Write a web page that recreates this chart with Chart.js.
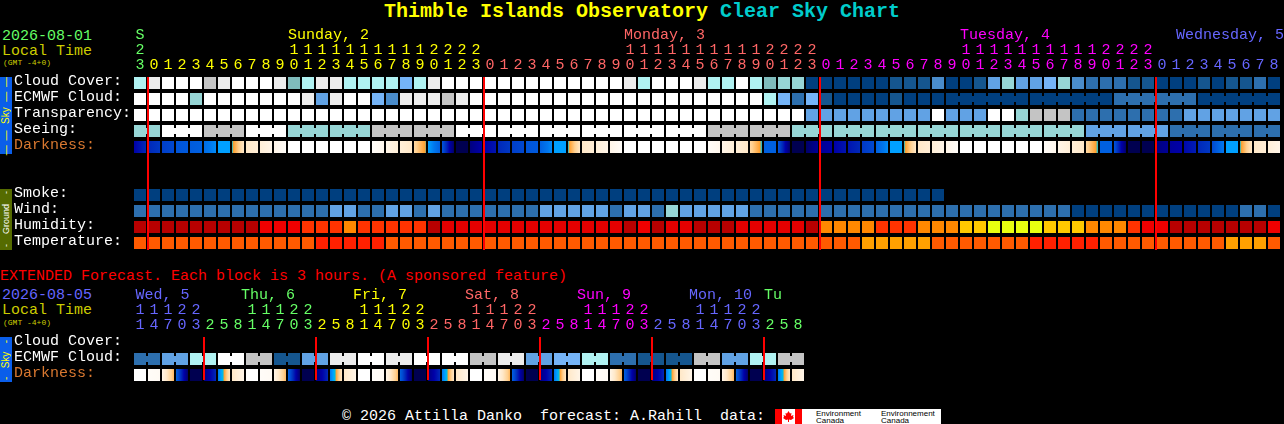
<!DOCTYPE html>
<html>
<head>
<meta charset="utf-8">
<title>Thimble Islands Observatory Clear Sky Chart</title>
<script src="https://cdn.jsdelivr.net/npm/chart.js@4"></script>
<style>
    html, body { margin: 0; background: #000; overflow: hidden; width: 1284px; height: 424px; }
    body { position: relative; font-family: "Liberation Mono", monospace; font-size: 15px; }
    canvas { position: absolute; left: 0; }
    .txt { position: absolute; white-space: pre; line-height: 16px; }
    .bar { position: absolute; left: 0; width: 12px; display: flex; align-items: center; justify-content: center; }
    .bar span { writing-mode: vertical-rl; transform: rotate(180deg); font: 10px/12px "Liberation Sans", sans-serif; white-space: pre; }
    .bar i { font-style: normal; font-size: 10px; letter-spacing: 1px; }
</style>
</head>
<body>
<div class="txt" style="left:384px;top:2px;font-size:20px;font-weight:bold;line-height:20px;color:#ffff00">Thimble Islands Observatory <span style="color:#00cccc">Clear Sky Chart</span></div>
<div class="txt" style="left:2px;top:29px;color:#66ff66">2026-08-01</div>
<div class="txt" style="left:2px;top:44px;color:#cccc00">Local Time</div>
<div class="txt" style="left:3px;top:55px;font-size:8px;color:#cccc00">(GMT -4+0)</div>
<div class="bar" style="top:77px;height:77px;background:#0a5eea"><span style="color:#ffff00"><i>— —</i>  Sky  <i>— —</i></span></div>
<div class="bar" style="top:189px;height:61px;background:#556b00"><span style="color:#fff;font-size:9px">-    Ground    -</span></div>
<div class="txt" style="left:0;top:269px;color:#ff0000">EXTENDED Forecast. Each block is 3 hours. (A sponsored feature)</div>
<div class="txt" style="left:2px;top:288px;color:#6666ff">2026-08-05</div>
<div class="txt" style="left:2px;top:303px;color:#cccc00">Local Time</div>
<div class="txt" style="left:3px;top:315px;font-size:8px;color:#cccc00">(GMT -4+0)</div>
<div class="bar" style="top:337px;height:45px;background:#0a5eea"><span style="color:#ffff00">-   Sky   -</span></div>
<div class="txt" style="left:342px;top:409px;color:#fff">© 2026 Attilla Danko  forecast: A.Rahill  data:</div>
<div style="position:absolute;left:775px;top:409px;width:166px;height:15px;background:#fff;color:#000;font:8px/7px 'Liberation Sans',sans-serif">
    <div style="position:absolute;left:0;top:0;width:7px;height:15px;background:#ff0000"></div>
    <div style="position:absolute;left:20px;top:0;width:7px;height:15px;background:#ff0000"></div>
    <svg style="position:absolute;left:7px;top:1px" width="13" height="13" viewBox="0 0 13 13"><polygon fill="#ff0000" points="6.5,1 8,3.5 9.5,3 9,6 11.5,5 11,7 12,8 9,10 7,9.5 7,12 6,12 6,9.5 4,10 1,8 2,7 1.5,5 4,6 3.5,3 5,3.5"/></svg>
    <div style="position:absolute;left:41px;top:1px">Environment<br>Canada</div>
    <div style="position:absolute;left:106px;top:1px">Environnement<br>Canada</div>
</div>
<canvas id="forecastChart" width="1284" height="265" style="top:0"></canvas>
<canvas id="extendedChart" width="1284" height="140" style="top:265px"></canvas>

<script>
// palette lookups, the arrays below hold indexes into these
const skyColors = ['#ffffff', '#ececec', '#c4c4c4', '#b0f2f2', '#97d6d6', '#7fbcbc', '#75b4f7', '#61a2e4', '#4a8ccb', '#2d6fae', '#15568f', '#003f7f'];
const humidityColors = ['#b80000', '#e40000', '#f00000', '#ff3300', '#ff8800', '#ffc800', '#e8ff10'];
const temperatureColors = ['#ff5a00', '#ffa000', '#ff2000'];
const darknessStops = [[0, '#ffffff'], [1, '#fff5e8'], [2, '#ffe8c8'], [3, '#ffd090'], [4, '#ffa030'], [4.3, '#00c0e0'], [5, '#00a0ff'], [6, '#0078ee'], [7, '#0060e0'], [8, '#0048d0'], [9, '#0028b8'], [10, '#0000a8'], [11, '#000080'], [12, '#000050']];

const rowLabels = ['Cloud Cover:', 'ECMWF Cloud:', 'Transparency:', 'Seeing:', 'Darkness:', '', '', 'Smoke:', 'Wind:', 'Humidity:', 'Temperature:'];
const hours = [23, 0, 1, 2, 3, 4, 5, 6, 7, 8, 9, 10, 11, 12, 13, 14, 15, 16, 17, 18, 19, 20, 21, 22, 23, 0, 1, 2, 3, 4, 5, 6, 7, 8, 9, 10, 11, 12, 13, 14, 15, 16, 17, 18, 19, 20, 21, 22, 23, 0, 1, 2, 3, 4, 5, 6, 7, 8, 9, 10, 11, 12, 13, 14, 15, 16, 17, 18, 19, 20, 21, 22, 23, 0, 1, 2, 3, 4, 5, 6, 7, 8];
const hourColors = ['#66ff66', '#ffff00', '#ff6666', '#ff00ff', '#6666ff'];
const hourDays = [0, 1, 1, 1, 1, 1, 1, 1, 1, 1, 1, 1, 1, 1, 1, 1, 1, 1, 1, 1, 1, 1, 1, 1, 1, 2, 2, 2, 2, 2, 2, 2, 2, 2, 2, 2, 2, 2, 2, 2, 2, 2, 2, 2, 2, 2, 2, 2, 2, 3, 3, 3, 3, 3, 3, 3, 3, 3, 3, 3, 3, 3, 3, 3, 3, 3, 3, 3, 3, 3, 3, 3, 3, 4, 4, 4, 4, 4, 4, 4, 4, 4];
const dayNames = ['S', 'Sunday, 2', 'Monday, 3', 'Tuesday, 4', 'Wednesday, 5'];
const dayCols = [0.1, 11, 35, 59, 74.43];
const midnights = [0, 24, 48, 72];

const cloudCover = [3, 1, 0, 0, 0, 2, 1, 0, 0, 0, 1, 5, 3, 1, 1, 3, 3, 3, 3, 6, 3, 1, 0, 0, 0, 0, 0, 0, 0, 0, 0, 0, 0, 0, 0, 1, 3, 0, 0, 0, 1, 3, 3, 0, 3, 5, 4, 4, 11, 11, 11, 11, 11, 11, 10, 10, 10, 8, 11, 11, 10, 7, 4, 7, 7, 6, 4, 8, 9, 9, 9, 10, 10, 11, 11, 11, 10, 11, 10, 10, 9, 11];
const ecmwfCloud = [0, 0, 0, 0, 4, 0, 0, 0, 0, 0, 0, 0, 1, 7, 1, 0, 0, 6, 8, 1, 1, 1, 2, 1, 0, 0, 0, 0, 0, 0, 0, 0, 0, 0, 0, 0, 0, 0, 0, 0, 0, 0, 0, 0, 0, 3, 6, 9, 6, 10, 11, 11, 11, 11, 10, 11, 11, 11, 11, 11, 11, 11, 11, 11, 11, 11, 11, 11, 11, 11, 9, 9, 9, 9, 9, 9, 11, 11, 11, 11, 11, 11];
const ecmwfBlockStarts = [58, 64, 70, 76];
const transparency = [0, 0, 0, 0, 0, 0, 0, 0, 0, 0, 0, 0, 0, 0, 0, 0, 0, 0, 0, 0, 0, 0, 0, 0, 0, 0, 0, 0, 0, 0, 0, 0, 0, 0, 0, 0, 0, 0, 0, 0, 0, 0, 0, 0, 0, 0, 0, 0, 7, 7, 7, 7, 7, 7, 7, 7, 7, 0, 7, 7, 7, 0, 0, 4, 2, 2, 2, 9, 9, 9, 9, 9, 9, 9, 9, 7, 7, 7, 7, 7, 7, 7];
const seeing = [4, 4, 0, 0, 0, 2, 2, 2, 0, 0, 0, 4, 4, 4, 4, 4, 4, 2, 2, 2, 2, 2, 2, 0, 0, 0, 0, 0, 0, 0, 0, 0, 0, 0, 0, 0, 0, 0, 0, 0, 0, 2, 2, 2, 2, 2, 2, 4, 4, 4, 4, 4, 4, 4, 4, 4, 4, 4, 4, 4, 4, 4, 4, 4, 4, 4, 4, 4, 7, 7, 7, 7, 7, 7, 9, 9, 9, 9, 9, 9, 9, 9];
const seeingBlockStarts = [0, 2, 5, 8, 11, 14, 17, 20, 23, 26, 29, 32, 35, 38, 41, 44, 47, 50, 53, 56, 59, 62, 65, 68, 71, 74, 77, 80];
const darknessFrom = [10, 9, 8.3, 7.5, 7.2, 6.5, 5, 4.3, 2, 1.5, 1, 0, 0, 0, 0, 0, 0, 0.3, 1, 1.5, 2.7, 5, 7.5, 12, 11, 10, 9, 8.3, 7.5, 7, 5, 4.3, 2, 1.5, 1, 0, 0, 0, 0, 0, 0, 0.3, 1, 1.5, 2.7, 7, 7.5, 12, 11.5, 10.5, 10, 9.5, 8.5, 7, 5, 4.3, 2, 1.5, 1, 0, 0, 0, 0, 0, 0, 0.3, 1, 1.5, 2.7, 7, 7.5, 12, 12, 11, 10.3, 9.8, 9, 8, 5, 4.3, 2, 1.5];
const darknessTo = [9, 8.5, 8, 7.3, 7, 5.5, 5, 2, 1.6, 1, 0.3, 0, 0, 0, 0, 0, 0, 0.8, 1.5, 2, 4.15, 7, 11.5, 12, 10, 9.5, 8.5, 8, 7.3, 5.5, 5, 2, 1.6, 1, 0.3, 0, 0, 0, 0, 0, 0, 0.8, 1.5, 2, 4.3, 7, 11.5, 12, 10.5, 10, 9.5, 9, 8, 5.5, 5, 2, 1.6, 1, 0.3, 0, 0, 0, 0, 0, 0, 0.8, 1.5, 2, 4.3, 7, 11.5, 12, 12, 10.5, 10, 9.3, 8.5, 6, 5, 2, 1.6, 1];
const smoke = [11, 11, 11, 11, 11, 11, 11, 11, 11, 11, 11, 11, 11, 11, 11, 11, 11, 11, 11, 11, 11, 11, 11, 11, 11, 11, 11, 11, 11, 11, 11, 11, 11, 11, 11, 11, 11, 11, 11, 11, 11, 11, 11, 11, 11, 11, 11, 11, 11, 11, 11, 11, 11, 11, 11, 11, 11, 11];
const wind = [9, 9, 9, 9, 9, 9, 9, 9, 9, 9, 9, 9, 9, 9, 7, 7, 9, 9, 7, 7, 9, 7, 9, 9, 9, 9, 9, 9, 9, 7, 7, 7, 7, 7, 9, 7, 7, 9, 4, 7, 7, 7, 7, 7, 9, 9, 9, 9, 9, 9, 9, 9, 9, 9, 9, 9, 9, 9, 9, 9, 9, 9, 9, 9, 9, 9, 9, 11, 11, 11, 11, 11, 11, 11, 11, 11, 11, 11, 11, 9, 9, 11];
const humidity = [0, 0, 0, 0, 0, 0, 0, 0, 0, 2, 2, 2, 3, 3, 3, 4, 3, 3, 3, 3, 3, 0, 1, 1, 1, 1, 1, 1, 1, 1, 1, 1, 1, 1, 1, 0, 2, 0, 1, 1, 0, 0, 0, 1, 1, 1, 1, 1, 0, 4, 4, 4, 4, 3, 3, 3, 4, 4, 4, 5, 5, 6, 6, 6, 6, 5, 5, 5, 4, 4, 4, 3, 2, 2, 0, 0, 0, 0, 0, 0, 0, 2];
const temperature = [0, 0, 0, 0, 0, 0, 0, 0, 0, 0, 0, 0, 0, 2, 2, 2, 2, 2, 0, 0, 0, 0, 0, 0, 0, 0, 0, 0, 0, 0, 0, 0, 0, 0, 0, 0, 0, 0, 0, 0, 0, 0, 0, 0, 0, 0, 0, 0, 0, 0, 0, 0, 1, 1, 1, 1, 1, 0, 0, 0, 0, 0, 0, 0, 2, 2, 2, 2, 2, 0, 0, 0, 0, 0, 0, 0, 0, 0, 1, 1, 1, 0];

const extRowLabels = ['Cloud Cover:', 'ECMWF Cloud:', 'Darkness:'];
const extHours = [11, 14, 17, 20, 23, 2, 5, 8, 11, 14, 17, 20, 23, 2, 5, 8, 11, 14, 17, 20, 23, 2, 5, 8, 11, 14, 17, 20, 23, 2, 5, 8, 11, 14, 17, 20, 23, 2, 5, 8, 11, 14, 17, 20, 23, 2, 5, 8];
const extHourColors = ['#6666ff', '#66ff66', '#ffff00', '#ff6666', '#ff00ff', '#6666ff', '#66ff66'];
const extHourDays = [0, 0, 0, 0, 0, 1, 1, 1, 1, 1, 1, 1, 1, 2, 2, 2, 2, 2, 2, 2, 2, 3, 3, 3, 3, 3, 3, 3, 3, 4, 4, 4, 4, 4, 4, 4, 4, 5, 5, 5, 5, 5, 5, 5, 5, 6, 6, 6];
const extDayNames = ['Wed, 5', 'Thu, 6', 'Fri, 7', 'Sat, 8', 'Sun, 9', 'Mon, 10', 'Tu'];
const extDayCols = [0.1, 7.64, 15.64, 23.64, 31.64, 39.64, 45];
const extMidnights = [4, 12, 20, 28, 36, 44];
const extEcmwf = [9, 9, 7, 7, 3, 3, 0, 0, 2, 2, 10, 10, 7, 7, 1, 1, 0, 0, 1, 1, 0, 0, 0, 0, 2, 2, 1, 1, 7, 7, 6, 6, 3, 3, 9, 9, 10, 10, 10, 10, 2, 2, 7, 7, 3, 3, 2, 2];
const extEcmwfBlockStarts = [0, 2, 4, 6, 8, 10, 12, 14, 16, 18, 20, 22, 24, 26, 28, 30, 32, 34, 36, 38, 40, 42, 44, 46];
const extDarknessFrom = [0, 0.3, 1, 7, 12, 11, 6, 2, 0, 0.3, 1, 7, 12, 11, 6, 2, 0, 0.3, 1, 7, 12, 11, 6, 2, 0, 0.3, 1, 7, 12, 11, 6, 2, 0, 0.3, 1, 7, 12, 11, 6, 2, 0, 0.3, 1, 7, 12, 11, 6, 2];
const extDarknessTo = [0, 0.5, 3.5, 11.5, 12, 9, 2, 1, 0, 0.5, 3.5, 11.5, 12, 9, 2, 1, 0, 0.5, 3.5, 11.5, 12, 9, 2, 1, 0, 0.5, 3.5, 11.5, 12, 9, 2, 1, 0, 0.5, 3.5, 11.5, 12, 9, 2, 1, 0, 0.5, 3.5, 11.5, 12, 9, 2, 1];

const monoFont = { family: "'Liberation Mono', monospace", size: 15, lineHeight: 1 };

function cellRow(row, values, palette) {
    return {
        data: values.map((v, i) => ({ x: i, y: [row - 0.375, row + 0.375] })),
        backgroundColor: values.map(v => palette[v]),
        barThickness: 12
    };
}

// thin joins between the hours that belong to one forecast block
function bridgeRow(row, values, blockStarts) {
    const cols = [];
    values.forEach((v, i) => {
        if (i >= blockStarts[0] && i + 1 < values.length && !blockStarts.includes(i + 1)) cols.push(i);
    });
    return {
        data: cols.map(i => ({ x: i + 0.5, y: [row - 0.1875, row + 0.1875] })),
        backgroundColor: cols.map(i => skyColors[values[i]]),
        barThickness: 2
    };
}

function darknessColor(v) {
    for (let i = 1; i < darknessStops.length; i++) {
        const [a, ca] = darknessStops[i - 1];
        const [b, cb] = darknessStops[i];
        if (v <= b) {
            const t = (v - a) / (b - a);
            const mix = k => Math.round(parseInt(ca.substr(k, 2), 16) * (1 - t) + parseInt(cb.substr(k, 2), 16) * t);
            return `rgb(${mix(1)},${mix(3)},${mix(5)})`;
        }
    }
    return darknessStops[darknessStops.length - 1][1];
}

function darknessRow(row, from, to) {
    return {
        data: from.map((v, i) => ({ x: i, y: [row - 0.375, row + 0.375] })),
        barThickness: 12,
        backgroundColor: ctx => {
            const i = ctx.dataIndex;
            if (i === undefined) return darknessColor(0);
            const center = ctx.chart.scales.x.getPixelForValue(i);
            // scales have no pixels yet on the first pass
            if (from[i] === to[i] || !isFinite(center)) return darknessColor(from[i]);
            const grad = ctx.chart.ctx.createLinearGradient(center - 6, 0, center + 6, 0);
            grad.addColorStop(0, darknessColor(from[i]));
            darknessStops.forEach(([v]) => {
                const pos = (v - from[i]) / (to[i] - from[i]);
                if (pos > 0 && pos < 1) grad.addColorStop(pos, darknessColor(v));
            });
            grad.addColorStop(1, darknessColor(to[i]));
            return grad;
        }
    };
}

function midnightLines(cols, top, bottom) {
    return {
        data: cols.map(c => ({ x: c + 8 / 14, y: [top, bottom] })),
        backgroundColor: '#ff0000',
        barThickness: 2,
        order: 0
    };
}

function hourLines(h) {
    const text = String(h);
    return text.length > 1 ? [text[0], text[1]] : ['', text];
}

// the axes keep their given size, no room reserved for label overhang
function fixAxis(scale, size) {
    if (scale.isHorizontal()) scale.height = size;
    else scale.width = size;
    scale.paddingLeft = scale.paddingRight = scale.paddingTop = scale.paddingBottom = 0;
}

function buildChart(canvasId, opts) {
    const rows = opts.labels.map((l, i) => i).filter(i => opts.labels[i]);
    return new Chart(document.getElementById(canvasId), {
        type: 'bar',
        data: { datasets: opts.datasets },
        options: {
            responsive: false,
            animation: false,
            devicePixelRatio: 1,
            layout: { padding: opts.padding },
            plugins: { legend: { display: false }, tooltip: { enabled: false } },
            datasets: { bar: { grouped: false, inflateAmount: 0, borderWidth: 0 } },
            scales: {
                x: {
                    type: 'linear',
                    position: 'top',
                    offset: false,
                    min: -0.5,
                    max: opts.columns - 0.5 + opts.spare,
                    grid: { display: false, drawTicks: false },
                    border: { display: false },
                    afterBuildTicks: s => { s.ticks = opts.hours.map((h, i) => ({ value: i })); },
                    afterFit: s => fixAxis(s, 32),
                    ticks: {
                        autoSkip: false,
                        maxRotation: 0,
                        minRotation: 0,
                        padding: 2,
                        font: monoFont,
                        color: ctx => opts.hourColors[opts.hourDays[ctx.index]],
                        callback: (v, i) => hourLines(opts.hours[i])
                    }
                },
                days: {
                    axis: 'x',
                    type: 'linear',
                    position: 'top',
                    offset: false,
                    min: -0.5,
                    max: opts.columns - 0.5 + opts.spare,
                    grid: { display: false, drawTicks: false },
                    border: { display: false },
                    afterBuildTicks: s => { s.ticks = opts.dayCols.map(c => ({ value: c })); },
                    afterFit: s => fixAxis(s, 15),
                    ticks: {
                        autoSkip: false,
                        maxRotation: 0,
                        minRotation: 0,
                        padding: 0,
                        align: 'start',
                        labelOffset: -6,
                        font: monoFont,
                        color: ctx => opts.dayColors[ctx.index],
                        callback: (v, i) => opts.dayNames[i]
                    }
                },
                y: {
                    type: 'linear',
                    reverse: true,
                    min: -0.5,
                    max: opts.labels.length - 0.5,
                    grid: { display: false, drawTicks: false },
                    border: { display: false },
                    afterBuildTicks: s => { s.ticks = rows.map(r => ({ value: r })); },
                    afterFit: s => fixAxis(s, 119),
                    ticks: {
                        autoSkip: false,
                        crossAlign: 'far',
                        padding: 0,
                        labelOffset: -2,
                        font: monoFont,
                        color: ctx => ctx.tick.value === opts.darknessRow ? '#d97830' : '#ffffff',
                        callback: v => opts.labels[v]
                    }
                }
            }
        }
    });
}

buildChart('forecastChart', {
    labels: rowLabels,
    columns: 82,
    spare: 0,
    padding: { left: 14, right: 3, top: 28, bottom: 14 },
    hours: hours,
    hourColors: hourColors,
    hourDays: hourDays,
    dayNames: dayNames,
    dayCols: dayCols,
    dayColors: hourColors,
    darknessRow: 4,
    datasets: [
        midnightLines(midnights, -0.375, 10.4375),
        cellRow(0, cloudCover, skyColors),
        cellRow(1, ecmwfCloud, skyColors),
        bridgeRow(1, ecmwfCloud, ecmwfBlockStarts),
        cellRow(2, transparency, skyColors),
        cellRow(3, seeing, skyColors),
        bridgeRow(3, seeing, seeingBlockStarts),
        darknessRow(4, darknessFrom, darknessTo),
        cellRow(7, smoke, skyColors),
        cellRow(8, wind, skyColors),
        cellRow(9, humidity, humidityColors),
        cellRow(10, temperature, temperatureColors)
    ]
});

buildChart('extendedChart', {
    labels: extRowLabels,
    columns: 48,
    spare: 34,
    padding: { left: 14, right: 3, top: 23, bottom: 22 },
    hours: extHours,
    hourColors: extHourColors,
    hourDays: extHourDays,
    dayNames: extDayNames,
    dayCols: extDayCols,
    dayColors: extHourColors,
    darknessRow: 2,
    datasets: [
        midnightLines(extMidnights, -0.375, 2.3125),
        cellRow(1, extEcmwf, skyColors),
        bridgeRow(1, extEcmwf, extEcmwfBlockStarts),
        darknessRow(2, extDarknessFrom, extDarknessTo)
    ]
});
</script>
</body>
</html>
